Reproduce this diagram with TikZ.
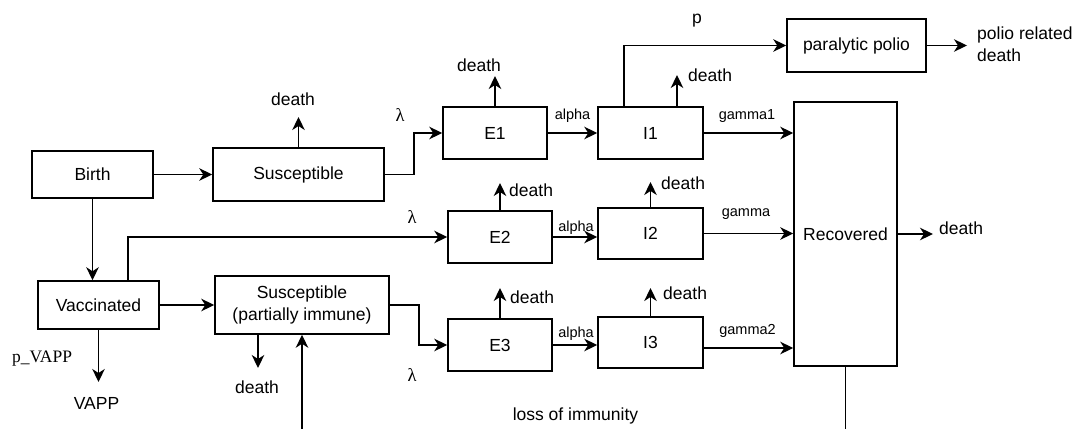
\documentclass[tikz,border=0pt]{standalone}
\usepackage{fontspec}
\setmainfont{Liberation Sans}
\newfontfamily\tmsfont{Liberation Serif}
\usetikzlibrary{arrows.meta,positioning}

\begin{document}
\begin{tikzpicture}[x=1pt,y=-1pt,
  every node/.style={font=\fontsize{17.5}{22}\selectfont},
  box/.style={draw,line width=1.5pt,inner sep=0pt,minimum width=104pt,minimum height=52pt},
  arr/.style={line width=1.5pt,-{Stealth[length=13pt,width=12.5pt,inset=4pt]}},
  rate/.style={inner sep=0pt,font=\fontsize{14.5}{17}\selectfont},
  greek/.style={inner sep=0pt,font=\fontsize{18.5}{22}\selectfont\tmsfont},
  sink/.style={inner sep=0pt}]
\useasboundingbox (0,0) rectangle (1075,428);

% Compartments
\node[box,minimum width=121pt,minimum height=47pt] (birth) at (92.5,174.5) {Birth};
\node[box,minimum width=171pt,minimum height=53pt] (sus) at (298.5,174.5) {Susceptible};
\node[box,minimum width=121pt,minimum height=48pt] (vac) at (98.5,305) {Vaccinated};
\node[box,minimum width=174pt,minimum height=58pt,align=center] (susp) at (302,305)
  {Susceptible\\(partially immune)};
\node[box] (e1) at (495,133) {E1};
\node[box,minimum width=105pt] (i1) at (650.5,133) {I1};
\node[box] (e2) at (500,237) {E2};
\node[box,minimum width=105pt,minimum height=51pt] (i2) at (650.5,233.5) {I2};
\node[box] (e3) at (500,345) {E3};
\node[box,minimum width=105pt,minimum height=51pt] (i3) at (650.5,342.5) {I3};
\node[box,minimum width=103pt,minimum height=264pt] (rec) at (845.5,234) {Recovered};
\node[box,minimum width=139pt,minimum height=53pt] (pp) at (856.5,45.5) {paralytic polio};

% Outflows
\node[sink] (dsus) at (293,99.5) {death};
\node[sink] (de1) at (479,65.5) {death};
\node[sink,anchor=west] (di1) at (688,75) {death};
\node[sink,anchor=north west] (de2) at (509,184) {death};
\node[sink,anchor=north west] (di2) at (661,177) {death};
\node[sink,anchor=north west] (de3) at (510,291) {death};
\node[sink,anchor=north west] (di3) at (663,287) {death};
\node[sink] (dsusp) at (257,387) {death};
\node[sink] (vapp) at (96.5,403.5) {VAPP};
\node[sink,anchor=base west] (drec) at (939,234) {death};
\node[sink,anchor=west,align=left] (dpp) at (977,44) {polio related\\death};
\coordinate (tsus) at (298.5,117);
\coordinate (te1) at (495,76);
\coordinate (ti1) at (677,75);
\coordinate (te2) at (500,183);
\coordinate (ti2) at (650.5,182);
\coordinate (te3) at (500,288);
\coordinate (ti3) at (650.5,288);
\coordinate (tsusp) at (258,368);
\coordinate (tvac) at (98.5,382);
\coordinate (trec) at (933,234);
\coordinate (tpp) at (967,45.5);
\coordinate (low) at (0,445);

% Rates
\node[greek] (l1) at (400,115) {λ};
\node[greek] (l2) at (412,217) {λ};
\node[greek] (l3) at (412,375) {λ};
\node[greek,font=\fontsize{17.5}{22}\selectfont\tmsfont] (pv) at (42,359) {p\_VAPP};
\node[rate] (a1) at (572.5,116) {alpha};
\node[rate] (a2) at (576,227.5) {alpha};
\node[rate] (a3) at (576,334) {alpha};
\node[rate] (g1) at (747,116) {gamma1};
\node[rate] (g2) at (746,214) {gamma};
\node[rate] (g3) at (747.5,331) {gamma2};
\node[sink] (pl) at (697,21) {p};
\node[sink] (loss) at (575.5,415.5) {loss of immunity};

% Flows between compartments
\draw[arr] (birth) -- (sus);
\draw[arr] (birth.south) -- (birth.south |- vac.north);
\draw[arr] (vac) -- (susp);
\draw[arr] ([xshift=29.5pt]vac.north) |- (e2.west);
\draw[arr] (sus.east) -- ++(29,0) |- (e1.west);
\draw[arr] (susp.east) -- ++(29,0) |- (e3.west);
\draw[arr] (e1) -- (i1);
\draw[arr] (e2) -- (e2 -| i2.west);
\draw[arr] (e3) -- (e3 -| i3.west);
\draw[arr] (i1) -- (i1 -| rec.west);
\draw[arr] (i2) -- (i2 -| rec.west);
\draw[arr] ([yshift=-5.5pt]i3.east) -- ([yshift=-5.5pt]i3.east -| rec.west);
\draw[arr] ([xshift=-26.5pt]i1.north) |- (pp.west);
\draw[arr] (pp.east) -- (tpp);
\draw[arr] (rec.east) -- (trec);
\draw[arr] (rec.south) -- (rec.south |- low) -| (susp.south);
% Deaths
\draw[arr] (sus.north) -- (tsus);
\draw[arr] (e1.north) -- (te1);
\draw[arr] (ti1 |- i1.north) -- (ti1);
\draw[arr] (e2.north) -- (te2);
\draw[arr] (i2.north) -- (ti2);
\draw[arr] (e3.north) -- (te3);
\draw[arr] (i3.north) -- (ti3);
\draw[arr] (tsusp |- susp.south) -- (tsusp);
\draw[arr] (vac.south) -- (tvac);
\end{tikzpicture}
\end{document}
